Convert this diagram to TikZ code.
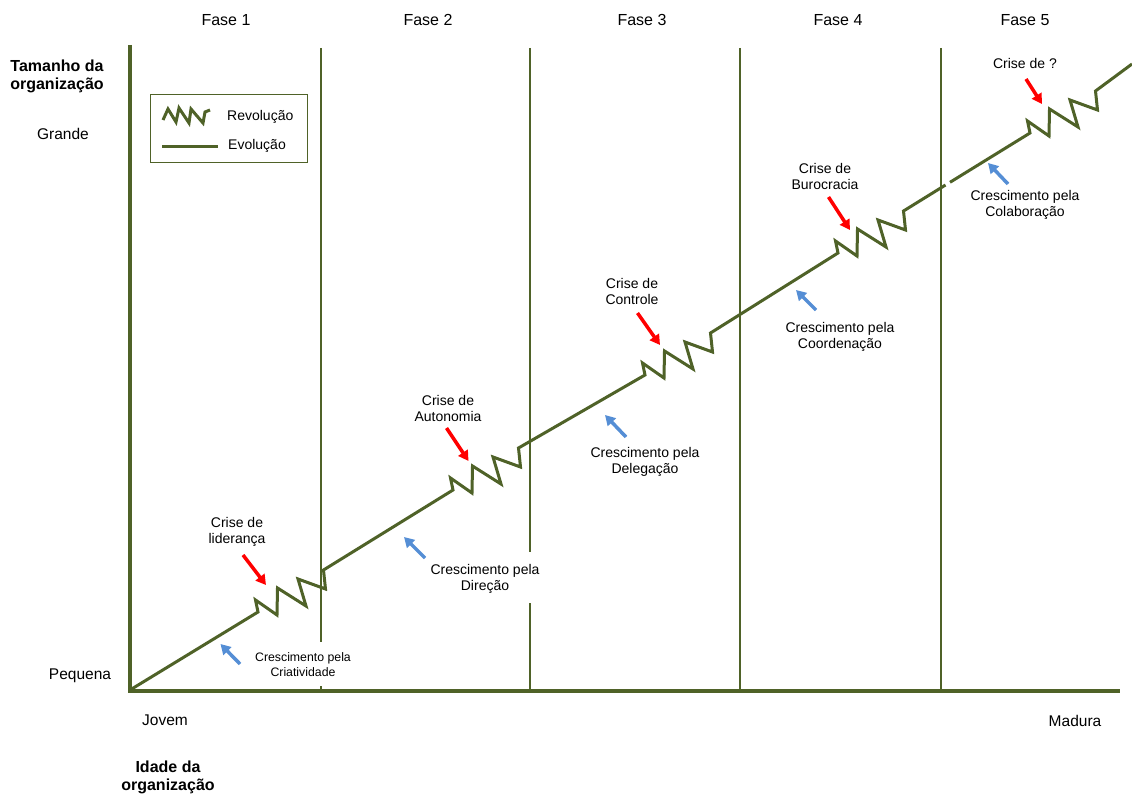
\documentclass[tikz,border=0pt]{standalone}
\usepackage{fontspec}
\setmainfont{Liberation Sans}
\usetikzlibrary{arrows.meta}
\definecolor{evogreen}{RGB}{79,98,40}
\definecolor{crisisred}{RGB}{255,0,0}
\definecolor{growblue}{RGB}{85,142,213}
\begin{document}
\begin{tikzpicture}[x=1pt,y=-1pt,
  axisline/.style={draw=evogreen,line width=4pt},
  phaseline/.style={draw=evogreen,line width=2.5pt},
  evo/.style={draw=evogreen,line width=3pt,line join=miter},
  crisis/.style={draw=crisisred,line width=3.5pt,-{Triangle[length=10pt,width=11pt]}},
  growth/.style={draw=growblue,line width=3.5pt,-{Triangle[length=10pt,width=11pt]}},
  lbl/.style={font=\fontsize{14}{16}\selectfont,align=center,inner sep=0pt},
  smalllbl/.style={font=\fontsize{12.3}{15}\selectfont,align=center,inner sep=0pt},
  phasetitle/.style={font=\fontsize{16}{18}\selectfont,inner sep=0pt},
  axislbl/.style={font=\fontsize{15.5}{18}\selectfont,inner sep=0pt},
  axistitle/.style={font=\bfseries\fontsize{16}{18}\selectfont,align=center,inner sep=0pt},
  legendlbl/.style={font=\fontsize{14}{16}\selectfont,inner sep=0pt},
  % one revolution: a sawtooth that lifts the curve to a new level
  zz/.style={insert path={-- ++(-2.5,-12) -- ++(21.5,15) -- ++(0.5,-27) -- ++(28.5,18) -- ++(-8,-27) -- ++(27.5,10) -- ++(-2,-19)}}
]
\useasboundingbox (0,0) rectangle (1132,794);

% axes
\coordinate (origin) at (130,691);
\coordinate (ytop) at (130,45);
\coordinate (xend) at (1120,691);
\draw[axisline] (ytop) -- (origin) -- (xend);

% phase boundaries
\coordinate (p1t) at (321,48);  \coordinate (p1a) at (321,642); \coordinate (p1b) at (321,686); \coordinate (p1e) at (321,691);
\coordinate (p2t) at (530,48);  \coordinate (p2a) at (530,552); \coordinate (p2b) at (530,603); \coordinate (p2e) at (530,691);
\coordinate (p3t) at (740,48);  \coordinate (p3e) at (740,691);
\coordinate (p4t) at (941,48);  \coordinate (p4e) at (941,691);
\draw[phaseline] (p1t) -- (p1a) (p1b) -- (p1e);
\draw[phaseline] (p2t) -- (p2a) (p2b) -- (p2e);
\draw[phaseline] (p3t) -- (p3e);
\draw[phaseline] (p4t) -- (p4e);

% phase titles
\node[phasetitle] (f1) at (226,20) {Fase 1};
\node[phasetitle] (f2) at (428,20) {Fase 2};
\node[phasetitle] (f3) at (642,20) {Fase 3};
\node[phasetitle] (f4) at (838,20) {Fase 4};
\node[phasetitle] (f5) at (1025,20) {Fase 5};

% axis labels
\node[axistitle] (ytitle) at (57,76) {Tamanho da\\organização};
\node[axislbl] (big) at (63,134) {Grande};
\node[axislbl] (small) at (80,676) {Pequena};
\node[axislbl] (young) at (165,720) {Jovem};
\node[axislbl] (mature) at (1075,721) {Madura};
\node[axistitle] (xtitle) at (168,777) {Idade da\\organização};

% growth curve: evolution segments joined by revolutions
\coordinate (r1) at (258,612);
\coordinate (r2) at (453,490);
\coordinate (r3) at (645,375);
\coordinate (r4) at (838,253);
\coordinate (r5) at (1030,133);
\coordinate (gapl) at (945.5,185);
\coordinate (gapr) at (950,182.3);
\coordinate (cend) at (1132,64);
\draw[evo] (130,690) -- (r1) [zz] -- (r2) [zz] -- (r3) [zz] -- (r4) [zz] -- (gapl);
\draw[evo] (gapr) -- (r5) [zz] -- (cend);

% crises
\node[lbl] (c1) at (237,532) {Crise de\\liderança};
\node[lbl] (c2) at (448,408) {Crise de\\Autonomia};
\node[lbl] (c3) at (632,291) {Crise de\\Controle};
\node[lbl] (c4) at (825,176) {Crise de\\Burocracia};
\node[lbl] (c5) at (1025,63) {Crise de ?};
\coordinate (c1s) at (243,555);   \coordinate (c1t) at (266,585);
\coordinate (c2s) at (446.5,428); \coordinate (c2t) at (468.5,461);
\coordinate (c3s) at (637.5,313); \coordinate (c3t) at (660,345);
\coordinate (c4s) at (828.5,197); \coordinate (c4t) at (850,230);
\coordinate (c5s) at (1026,79);   \coordinate (c5t) at (1042,104);
\draw[crisis] (c1s) -- (c1t);
\draw[crisis] (c2s) -- (c2t);
\draw[crisis] (c3s) -- (c3t);
\draw[crisis] (c4s) -- (c4t);
\draw[crisis] (c5s) -- (c5t);

% growth drivers
\node[smalllbl] (g1) at (303,664.5) {Crescimento pela\\Criatividade};
\node[lbl] (g2) at (485,579) {Crescimento pela\\Direção};
\node[lbl] (g3) at (645,462) {Crescimento pela\\Delegação};
\node[lbl] (g4) at (840,337) {Crescimento pela\\Coordenação};
\node[lbl] (g5) at (1025,205) {Crescimento pela\\Colaboração};
\coordinate (g1s) at (240,664);   \coordinate (g1t) at (220.5,644);
\coordinate (g2s) at (425,558);   \coordinate (g2t) at (404,537);
\coordinate (g3s) at (626,437);   \coordinate (g3t) at (605,415);
\coordinate (g4s) at (816,310);   \coordinate (g4t) at (796,290);
\coordinate (g5s) at (1008,184);  \coordinate (g5t) at (988,163);
\draw[growth] (g1s) -- (g1t);
\draw[growth] (g2s) -- (g2t);
\draw[growth] (g3s) -- (g3t);
\draw[growth] (g4s) -- (g4t);
\draw[growth] (g5s) -- (g5t);

% legend
\node[draw=evogreen,line width=1.5pt,minimum width=157pt,minimum height=68pt,inner sep=0pt] (legend) at (229,128.5) {};
\draw[evogreen,line width=3pt,line join=miter] (163,120) -- (168,109) -- (176,122) -- (179,108) -- (189,123) -- (191,109) -- (203,123) -- (205,112) -- (210,110);
\node[legendlbl,anchor=west] (lrev) at (227,116.5) {Revolução};
\coordinate (levs) at (162,147); \coordinate (leve) at (218,147);
\draw[evogreen,line width=3pt] (levs) -- (leve);
\node[legendlbl,anchor=west] (levo) at (228,146) {Evolução};
\end{tikzpicture}
\end{document}
